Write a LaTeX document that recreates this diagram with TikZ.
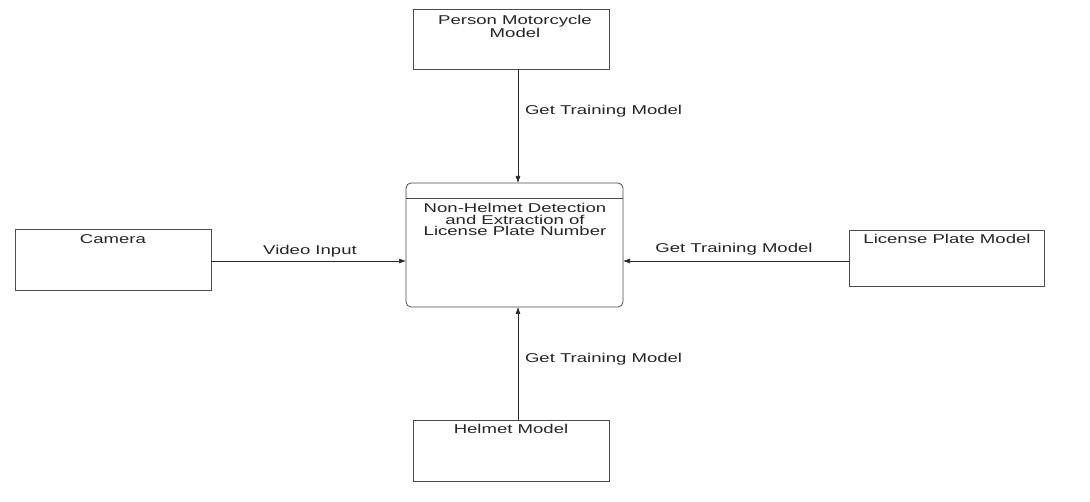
\documentclass[tikz,border=0pt]{standalone}
\usepackage{fontspec}
\setmainfont{Liberation Sans}[FakeStretch=1.45]
\usetikzlibrary{arrows.meta}
\begin{document}
\begin{tikzpicture}[x=1pt,y=-1pt,
  box/.style={draw=black!70,line width=0.8pt,fill=white,inner sep=0pt,outer sep=0pt},
  txt/.style={inner sep=0pt,outer sep=0pt,align=center,font=\fontsize{12.8}{11.6}\selectfont,text=black!85},
  conn/.style={draw=black!85,line width=0.6pt,-{Latex[length=7pt,width=5pt]}}]
\useasboundingbox[fill=white] (0,0) rectangle (1090,502);
% boxes
\node[box,minimum width=196pt,minimum height=60pt] (pm) at (511,39) {};
\node[box,rounded corners=5pt,minimum width=217pt,minimum height=124pt] (main) at (514.5,245) {};
\draw[draw=black!70,line width=0.8pt] ([yshift=-15pt]main.north west) -- ([yshift=-15pt]main.north east);
\node[box,minimum width=196pt,minimum height=61pt] (cam) at (113,259.5) {};
\node[box,minimum width=195pt,minimum height=56pt] (lp) at (946.5,258) {};
\node[box,minimum width=196pt,minimum height=61pt] (hm) at (511,450.5) {};
% texts
\node[txt,anchor=north] (pmt) at (515,15.5) {Person Motorcycle\\Model};
\node[txt,anchor=north] (maint) at (515,203.3) {Non-Helmet Detection\\and Extraction of\\License Plate Number};
\node[txt,anchor=base] (camt) at (113,244) {Camera};
\node[txt,anchor=base] (lpt) at (947,244) {License Plate Model};
\node[txt,anchor=base] (hmt) at (511,434) {Helmet Model};
% connectors
\coordinate (ax) at (518,0);
\coordinate (ay) at (0,261);
\draw[conn] (pm.south -| ax) -- (main.north -| ax);
\draw[conn] (hm.north -| ax) -- (main.south -| ax);
\draw[conn] (cam.east |- ay) -- (main.west |- ay);
\draw[conn] (lp.west |- ay) -- (main.east |- ay);
% labels
\node[txt,anchor=base west] (l1) at (525,115) {Get Training Model};
\node[txt,anchor=base west] (l2) at (525,363) {Get Training Model};
\node[txt,anchor=base] (l3) at (310,255) {Video Input};
\node[txt,anchor=base] (l4) at (734,253) {Get Training Model};
\end{tikzpicture}
\end{document}
